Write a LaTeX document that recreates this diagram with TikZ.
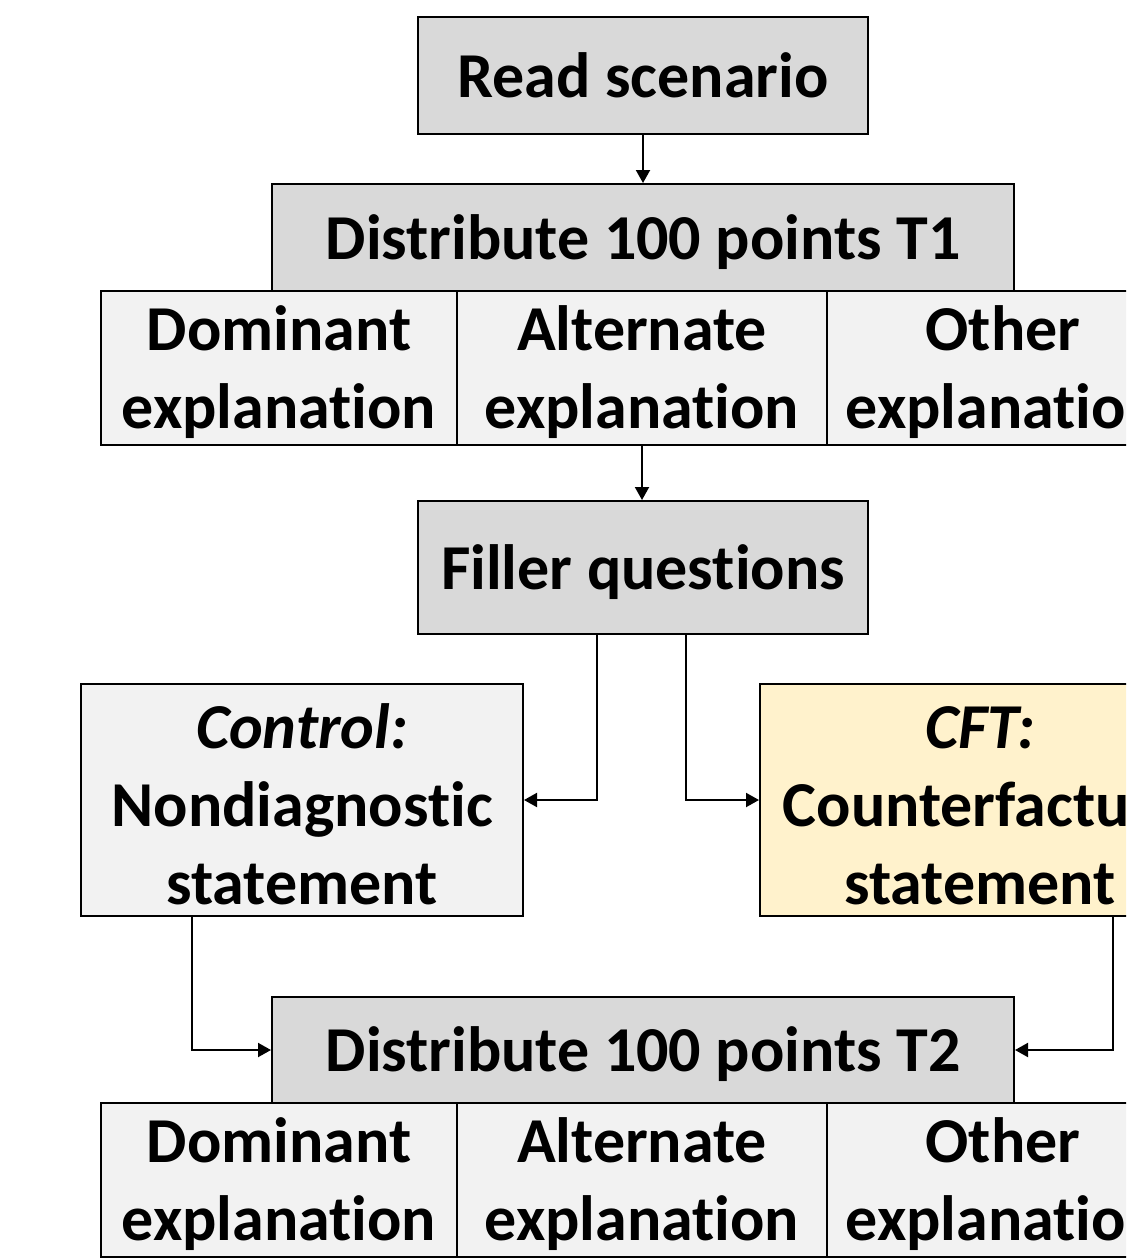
\documentclass[tikz,border=0pt]{standalone}
\usepackage{fontspec}
\setmainfont{Carlito}[RawFeature={-liga;-calt;-clig;-dlig}]
\usetikzlibrary{arrows.meta,calc}
\definecolor{boxdark}{HTML}{D9D9D9}
\definecolor{boxlight}{HTML}{F2F2F2}
\definecolor{boxcft}{HTML}{FFF2CC}
\newcommand\topstrut{\rule{0pt}{27pt}}
\newcommand\explword{explanat\kern0pt ion}
\begin{document}
\begin{tikzpicture}[x=0.5pt,y=-0.5pt,
  box/.style={draw=black,line width=1pt,inner sep=0pt,align=center,
    font=\fontsize{32}{39}\selectfont\bfseries},
  dark/.style={box,fill=boxdark},
  light/.style={box,fill=boxlight},
  cft/.style={box,fill=boxcft},
  arr/.style={line width=1pt,-{Triangle[length=6.5pt,width=7pt]}}]
\useasboundingbox (0,0) rectangle (1126,1258);
\clip (0,0) rectangle (1126,1258);
\fill[white] (0,0) rectangle (1126,1258);
% boxes
\node[dark,minimum width=225pt,minimum height=58.5pt] (read) at (643,75.5) {Read scenario};
\node[dark,minimum width=371pt,minimum height=53.5pt] (t1) at (643,237.5) {\topstrut Distribute 100 points T1};
\node[light,minimum width=178pt,minimum height=77pt] (d1) at (279,368) {\topstrut Dominant\\\explword};
\node[light,minimum width=185pt,minimum height=77pt] (a1) at (642,368) {\topstrut Alternate\\\explword};
\node[light,minimum width=176pt,minimum height=77pt] (o1) at (1003,368) {\topstrut Other\\\explword};
\node[dark,minimum width=225pt,minimum height=66.5pt] (filler) at (643,567.5) {\topstrut Filler questions};
\node[light,minimum width=221pt,minimum height=116pt] (control) at (302,800) {\topstrut\itshape Control:\\Nondiagnostic\\statement};
\node[cft,minimum width=220pt,minimum height=116pt] (cft) at (980,800) {\topstrut\itshape CFT:\\Counterfactual\\statement};
\node[dark,minimum width=371pt,minimum height=53pt] (t2) at (643,1050) {\topstrut Distribute 100 points T2};
\node[light,minimum width=178pt,minimum height=77pt] (d2) at (279,1180) {\topstrut Dominant\\\explword};
\node[light,minimum width=185pt,minimum height=77pt] (a2) at (642,1180) {\topstrut Alternate\\\explword};
\node[light,minimum width=176pt,minimum height=77pt] (o2) at (1003,1180) {\topstrut Other\\\explword};
% connectors
\draw[arr] (read.south) -- (t1.north);
\draw[arr] (a1.south) -- (filler.north -| a1.south);
\draw[arr] ([xshift=-23pt]filler.south) |- (control.east);
\draw[arr] ([xshift=21.5pt]filler.south) |- (cft.west);
\draw[arr] ([xshift=-55pt]control.south) |- (t2.west);
\draw[arr] ([xshift=66.5pt]cft.south) |- (t2.east);
\end{tikzpicture}
\end{document}
